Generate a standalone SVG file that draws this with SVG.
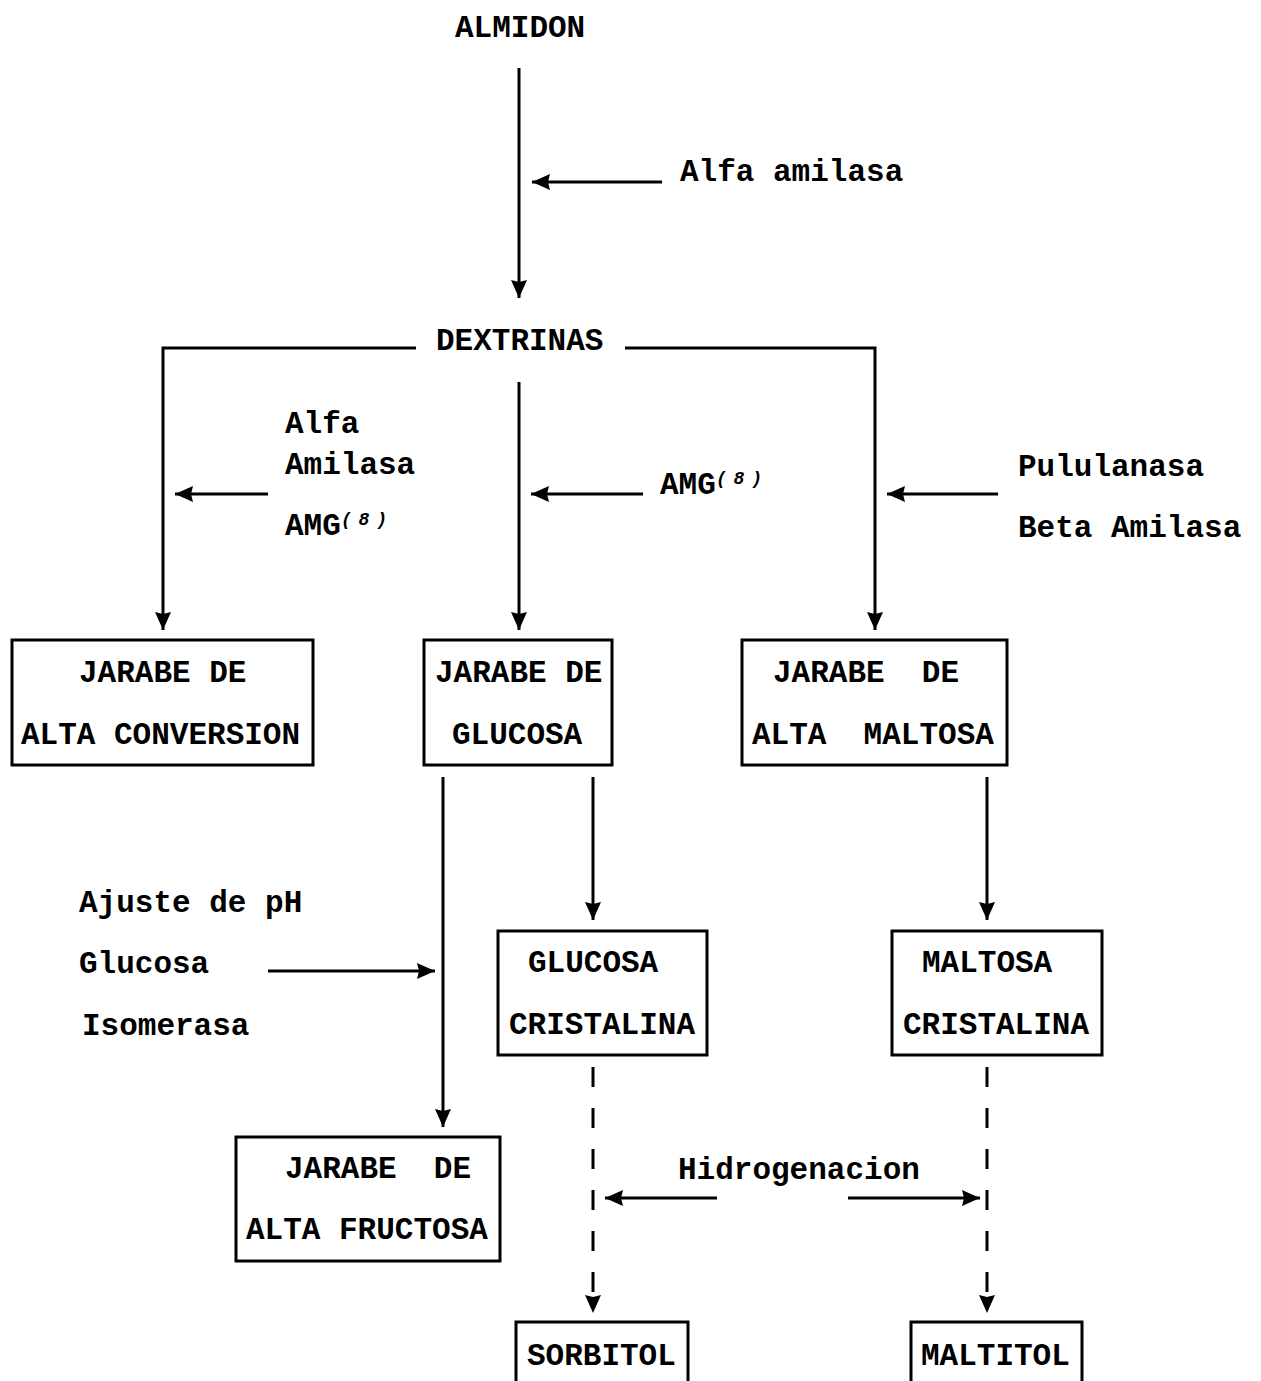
<svg xmlns="http://www.w3.org/2000/svg" width="1261" height="1381" viewBox="0 0 1261 1381">
<style>
text{font-family:"Liberation Mono","DejaVu Sans Mono",monospace;font-weight:bold;font-size:31px;fill:#000;white-space:pre}
.sup{font-size:18px;font-style:italic}
.box{fill:#fff;stroke:#000;stroke-width:3}
.ln{fill:none;stroke:#000;stroke-width:3}
.dash{fill:none;stroke:#000;stroke-width:3;stroke-dasharray:20 21}
</style>
<defs>
<marker id="ah" markerUnits="userSpaceOnUse" markerWidth="20" markerHeight="18" refX="18" refY="8" orient="auto">
<path d="M0,0 L18,8 L0,16 L2,8 z" fill="#000"/>
</marker>
</defs>
<rect width="1261" height="1381" fill="#fff"/>
<g id="connectors">
<line class="ln" x1="519" y1="68" x2="519" y2="298" marker-end="url(#ah)"/>
<line class="ln" x1="662" y1="182" x2="532" y2="182" marker-end="url(#ah)"/>
<polyline class="ln" points="416,348 163,348 163,630" marker-end="url(#ah)"/>
<polyline class="ln" points="625,348 875,348 875,630" marker-end="url(#ah)"/>
<line class="ln" x1="519" y1="382" x2="519" y2="630" marker-end="url(#ah)"/>
<line class="ln" x1="268" y1="494" x2="175" y2="494" marker-end="url(#ah)"/>
<line class="ln" x1="643" y1="494" x2="531" y2="494" marker-end="url(#ah)"/>
<line class="ln" x1="998" y1="494" x2="887" y2="494" marker-end="url(#ah)"/>
<line class="ln" x1="443" y1="777" x2="443" y2="1127" marker-end="url(#ah)"/>
<line class="ln" x1="593" y1="777" x2="593" y2="920" marker-end="url(#ah)"/>
<line class="ln" x1="987" y1="777" x2="987" y2="920" marker-end="url(#ah)"/>
<line class="ln" x1="268" y1="971" x2="435" y2="971" marker-end="url(#ah)"/>
<line class="dash" x1="593" y1="1067" x2="593" y2="1313" marker-end="url(#ah)"/>
<line class="dash" x1="987" y1="1067" x2="987" y2="1313" marker-end="url(#ah)"/>
<line class="ln" x1="717" y1="1198" x2="605" y2="1198" marker-end="url(#ah)"/>
<line class="ln" x1="848" y1="1198" x2="980" y2="1198" marker-end="url(#ah)"/>
</g>
<g id="labels">
<text x="680" y="181">Alfa amilasa</text>
<text x="285" y="433">Alfa</text>
<text x="285" y="474">Amilasa</text>
<text x="285" y="535">AMG</text>
<text class="sup" x="341" y="525" textLength="46">(8)</text>
<text x="660" y="494">AMG</text>
<text class="sup" x="716" y="484" textLength="46">(8)</text>
<text x="1018" y="476">Pululanasa</text>
<text x="1018" y="537">Beta Amilasa</text>
<text x="79" y="912">Ajuste de pH</text>
<text x="79" y="973">Glucosa</text>
<text x="82" y="1035">Isomerasa</text>
<text x="678" y="1179">Hidrogenacion</text>
</g>
<g id="almidon"><text x="455" y="37">ALMIDON</text></g>
<g id="dextrinas"><text x="436" y="350">DEXTRINAS</text></g>
<g id="jarabe-alta-conversion">
<rect class="box" x="12" y="640" width="301" height="125"/>
<text x="79" y="682">JARABE DE</text>
<text x="21" y="744">ALTA CONVERSION</text>
</g>
<g id="jarabe-glucosa">
<rect class="box" x="424" y="640" width="188" height="125"/>
<text x="435" y="682">JARABE DE</text>
<text x="452" y="744">GLUCOSA</text>
</g>
<g id="jarabe-alta-maltosa">
<rect class="box" x="742" y="640" width="265" height="125"/>
<text x="773" y="682">JARABE  DE</text>
<text x="752" y="744">ALTA  MALTOSA</text>
</g>
<g id="glucosa-cristalina">
<rect class="box" x="498" y="931" width="209" height="124"/>
<text x="528" y="972">GLUCOSA</text>
<text x="509" y="1034">CRISTALINA</text>
</g>
<g id="maltosa-cristalina">
<rect class="box" x="892" y="931" width="210" height="124"/>
<text x="922" y="972">MALTOSA</text>
<text x="903" y="1034">CRISTALINA</text>
</g>
<g id="jarabe-alta-fructosa">
<rect class="box" x="236" y="1137" width="264" height="124"/>
<text x="285" y="1178">JARABE  DE</text>
<text x="246" y="1239">ALTA FRUCTOSA</text>
</g>
<g id="sorbitol">
<rect class="box" x="516" y="1322" width="172" height="80"/>
<text x="527" y="1365">SORBITOL</text>
</g>
<g id="maltitol">
<rect class="box" x="911" y="1322" width="171" height="80"/>
<text x="921" y="1365">MALTITOL</text>
</g>
</svg>
